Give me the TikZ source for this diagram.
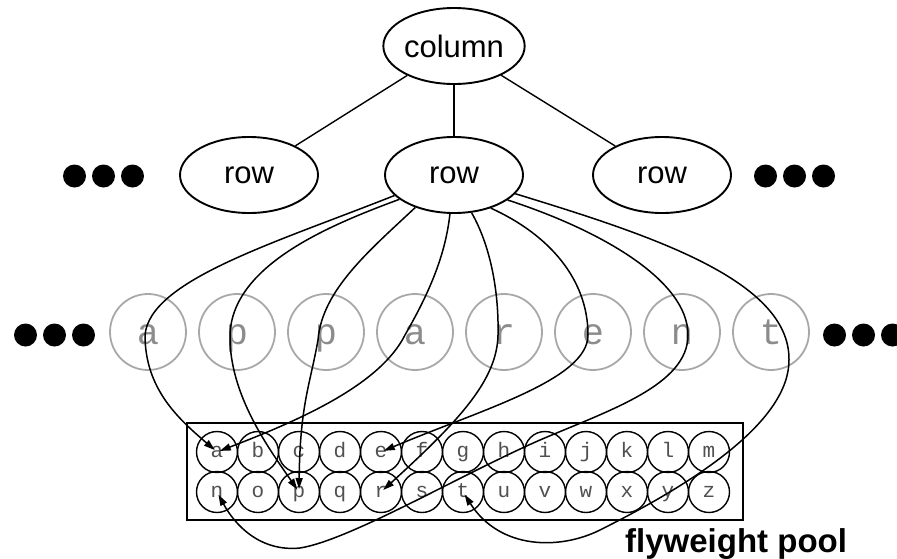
\documentclass[tikz,border=0pt]{standalone}
\usepackage{fontspec}
\setmainfont{Liberation Sans}
\newfontfamily\monof{Liberation Mono}
\usetikzlibrary{shapes.geometric,arrows.meta}
\definecolor{ghost}{HTML}{A8A8A8}
\definecolor{ghosttext}{HTML}{8C8C8C}
\definecolor{pooltext}{HTML}{505050}
\begin{document}
\begin{tikzpicture}[x=1pt,y=-1pt,
  oval/.style={ellipse, draw, line width=1.9pt, minimum width=138pt, minimum height=76pt, inner sep=0pt, font=\fontsize{31}{36}\selectfont},
  ghostc/.style={circle, draw=ghost, line width=1.8pt, minimum size=76pt, inner sep=0pt, text=ghosttext, font=\monof\fontsize{37}{40}\selectfont, text height=24pt, text depth=0pt},
  poolc/.style={circle, draw, line width=1.4pt, minimum size=41pt, inner sep=0pt, text=pooltext, font=\monof\fontsize{21}{24}\selectfont, text height=10pt, text depth=0pt},
  link/.style={line width=1.4pt},
  ref/.style={line width=1.5pt, -{Triangle[length=11pt,width=7pt]}, shorten >=3pt},
  bigdot/.style={circle, fill=black, inner sep=0pt, minimum size=23pt}]
\useasboundingbox (0,0) rectangle (897,558);

% tree
\node[oval] (column) at (454,46) {column};
\node[oval] (rowL) at (249,175) {row};
\node[oval] (row) at (454,175) {row};
\node[oval] (rowR) at (662,175) {row};
\draw[link] (column) -- (rowL);
\draw[link] (column) -- (row);
\draw[link] (column) -- (rowR);

% ellipsis dots
\foreach \x [count=\k] in {74.5,103.5,132.5} \node[bigdot] (tl\k) at (\x,176) {};
\foreach \x [count=\k] in {765.5,794.5,823.5} \node[bigdot] (tr\k) at (\x,176) {};
\foreach \x [count=\k] in {25.5,54.5,83.5} \node[bigdot] (ml\k) at (\x,335) {};
\foreach \x [count=\k] in {834.5,863.5,892.5} \node[bigdot] (mr\k) at (\x,335) {};

% ghost letters
\foreach \ch [count=\k from 0] in {a,p,p,a,r,e,n,t}
  \node[ghostc] (g\k) at ({148+89*\k},332) {\ch};

% pool
\node[draw, line width=1.4pt, minimum width=556pt, minimum height=97pt, inner sep=0pt] (pool) at (465,471.5) {};
\foreach \ch [count=\k from 0] in {a,b,c,d,e,f,g,h,i,j,k,l,m}
  \node[poolc] (p\ch) at ({217+41*\k},452) {\ch};
\foreach \ch [count=\k from 0] in {n,o,p,q,r,s,t,u,v,w,x,y,z}
  \node[poolc] (p\ch) at ({217+41*\k},492) {\ch};
\node[anchor=base west, inner sep=0pt, font=\bfseries\fontsize{33}{38}\selectfont] (lbl) at (625,552) {flyweight pool};

% references
\draw[ref] (row.199) .. controls (275,243) and (150,280) .. (145,335) .. controls (145,390) and (180,420) .. (pa.center);
\draw[ref] (row.204) .. controls (330,225) and (232,265) .. (230,335) .. controls (229,395) and (270,450) .. (pp.center);
\draw[ref] (row.220) .. controls (370,250) and (322,290) .. (318,340) .. controls (310,385) and (300,405) .. (pp.center);
\draw[ref] (row.264) .. controls (445,260) and (425,300) .. (405,335) .. controls (380,385) and (300,420) .. (pa.center);
\draw[ref] (row.295) .. controls (490,245) and (499,290) .. (498,335) .. controls (497,380) and (460,420) .. (pr.center);
\draw[ref] (row.318) .. controls (550,235) and (588,280) .. (588,335) .. controls (588,380) and (480,410) .. (pe.center);
\draw[ref] (row.335) .. controls (600,230) and (688,280) .. (688,335) .. controls (688,385) and (610,410) .. (540,440) .. controls (460,475) and (350,540) .. (300,548) .. controls (260,552) and (235,525) .. (pn.center);
\draw[ref] (row.343) .. controls (650,235) and (790,280) .. (789,360) .. controls (789,420) and (700,480) .. (600,530) .. controls (560,550) and (500,550) .. (pt.center);
\end{tikzpicture}
\end{document}
